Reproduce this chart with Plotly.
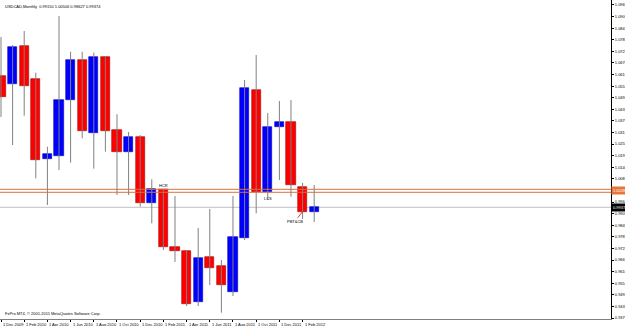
import plotly.graph_objects as go

months = ["Dec 2009", "Jan 2010", "Feb 2010", "Mar 2010", "Apr 2010", "May 2010", "Jun 2010",
          "Jul 2010", "Aug 2010", "Sep 2010", "Oct 2010", "Nov 2010", "Dec 2010", "Jan 2011",
          "Feb 2011", "Mar 2011", "Apr 2011", "May 2011", "Jun 2011", "Jul 2011", "Aug 2011",
          "Sep 2011", "Oct 2011", "Nov 2011", "Dec 2011", "Jan 2012", "Feb 2012", "Mar 2012"]
opens = [1.06044, 1.05622, 1.07568, 1.05876, 1.01812, 1.01995, 1.04809, 1.06856, 1.03163, 1.07009,
         1.03285, 1.02168, 1.02960, 0.99607, 1.00288, 0.97357, 0.97154, 0.94563, 0.96849, 0.96392,
         0.95071, 0.97814, 1.05332, 1.00166, 1.03453, 1.03707, 1.00420, 0.99150]
highs = [1.08025, 1.07618, 1.08330, 1.06211, 1.02452, 1.09092, 1.07278, 1.07278, 1.07227, 1.07060,
         1.04098, 1.03199, 1.03046, 1.00796, 1.00456, 0.99948, 0.97204, 0.98322, 0.99287, 0.96696,
         0.99948, 1.05840, 1.07110, 1.04164, 1.04774, 1.04824, 1.00608, 1.00506]
lows = [1.03961, 1.02538, 1.04027, 1.00847, 0.99490, 1.01268, 1.01639, 1.02879, 1.01334, 1.02198,
        0.99998, 0.99998, 0.99404, 0.98561, 0.97204, 0.96595, 0.94360, 0.94360, 0.95426, 0.94019,
        0.94868, 0.97712, 0.99069, 0.99744, 1.00760, 0.99912, 0.98779, 0.98627]
closes = [1.04977, 1.07532, 1.05551, 1.01776, 1.02081, 1.04824, 1.06856, 1.03250, 1.07009, 1.03250,
          1.02198, 1.02960, 0.99607, 1.00288, 0.97357, 0.97154, 0.94461, 0.96798, 0.96290, 0.95426,
          0.97865, 1.05434, 1.00166, 1.03453, 1.03707, 1.00506, 0.99150, 0.99374]

tick_months = ["1 Dec 2009", "1 Feb 2010", "1 Apr 2010", "1 Jun 2010", "1 Aug 2010", "1 Oct 2010",
               "1 Dec 2010", "1 Feb 2011", "1 Apr 2011", "1 Jun 2011", "1 Aug 2011", "1 Oct 2011",
               "1 Dec 2011", "1 Feb 2012"]
price_ticks = [round(0.93750 + k * 0.00589, 5) for k in range(28)]
levels = [1.00288, 1.00136]

header = "USDCAD,Monthly  0.99150 1.00506 0.98627 0.99374"
footer = "FxPro MT4, \u00a9 2001-2011 MetaQuotes Software Corp."

FONT = "Liberation Sans, Arial, sans-serif"
idx = list(range(len(months)))

wx, wy = [], []
for i, h, l in zip(idx, highs, lows):
    wx += [i, i, None]
    wy += [l, h, None]

bull = [c >= o for o, c in zip(opens, closes)]
fill = ["#0000FF" if b else "#FF0000" for b in bull]
edge = ["#0000C0" if b else "#A00000" for b in bull]

fig = go.Figure()
fig.add_trace(go.Scatter(x=wx, y=wy, mode="lines", line=dict(color="#808080", width=1),
                         hoverinfo="skip", showlegend=False))
fig.add_trace(go.Bar(x=idx, base=[min(o, c) for o, c in zip(opens, closes)],
                     y=[max(abs(c - o), 0.0004) for o, c in zip(opens, closes)],
                     width=0.78, marker=dict(color=fill, line=dict(color=edge, width=0.6)),
                     showlegend=False, hoverinfo="skip"))

# horizontal levels
for lv in levels:
    fig.add_shape(type="line", xref="paper", x0=0, x1=1, yref="y", y0=lv, y1=lv,
                  line=dict(color="#D9703A", width=1))
fig.add_shape(type="line", xref="paper", x0=0, x1=1, yref="y", y0=closes[-1], y1=closes[-1],
              line=dict(color="#C0C0C0", width=1), layer="below")

ann = []
for k, t in enumerate(tick_months):
    ann.append(dict(x=idx[2 * k], xref="x", y=0, yref="paper", yanchor="top", xanchor="left",
                    text=t, showarrow=False, xshift=0, yshift=-1,
                    font=dict(size=4, color="#000000", family=FONT)))
ann.append(dict(x=0, xref="paper", y=1, yref="paper", xanchor="left", yanchor="top", text=header,
                showarrow=False, xshift=3, yshift=-2, font=dict(size=4, color="#000000", family=FONT)))
ann.append(dict(x=0, xref="paper", y=0, yref="paper", xanchor="left", yanchor="bottom", text=footer,
                showarrow=False, xshift=3, yshift=1, font=dict(size=4, color="#000000", family=FONT)))
ann.append(dict(x=1, xref="paper", y=levels[0], yref="y", xanchor="left", yanchor="middle",
                text=f"{levels[0]:.5f}", showarrow=False, xshift=0, yshift=-1.5, bgcolor="#E8763A",
                borderpad=1, font=dict(size=4, color="#FFFFFF", family=FONT)))
ann.append(dict(x=1, xref="paper", y=closes[-1], yref="y", xanchor="left", yanchor="middle",
                text=f"{closes[-1]:.5f}", showarrow=False, xshift=0, bgcolor="#000000",
                borderpad=1, font=dict(size=4, color="#FFFFFF", family=FONT)))
ann.append(dict(x=idx[14], xref="x", y=opens[14], yref="y", yanchor="bottom", text="HCR",
                showarrow=False, yshift=0, bgcolor="#FFFFFF", borderpad=0,
                font=dict(size=4, color="#000000", family=FONT)))
ann.append(dict(x=idx[23], xref="x", y=opens[23], yref="y", yanchor="top", text="LCS",
                showarrow=False, yshift=-2, font=dict(size=4, color="#000000", family=FONT)))
ann.append(dict(x=idx[26], xref="x", y=closes[26], yref="y", text="PBT&CB", showarrow=True,
                arrowhead=0, arrowwidth=0.8, arrowcolor="#CC0000", ax=-8, ay=10, standoff=0,
                font=dict(size=4, color="#000000", family=FONT)))

fig.update_layout(
    width=625, height=326, margin=dict(l=0, r=14, t=0, b=7),
    paper_bgcolor="#FFFFFF", plot_bgcolor="#FFFFFF", bargap=0,
    annotations=ann,
    xaxis=dict(range=[-0.0862, 52.59], showgrid=False, zeroline=False, showticklabels=False,
               tickmode="array", tickvals=idx[::2], ticks="outside", ticklen=2, tickcolor="#000000",
               showline=True, linecolor="#808080", linewidth=1, mirror=True, automargin=False),
    yaxis=dict(range=[0.936992, 1.099044], side="right", showgrid=False, zeroline=False,
               tickmode="array", tickvals=price_ticks, ticktext=[f"{v:.5f}" for v in price_ticks],
               ticks="outside", ticklen=2, tickcolor="#000000",
               tickfont=dict(size=4, color="#000000", family=FONT),
               showline=True, linecolor="#000000", linewidth=1, automargin=False),
)

fig.write_html("out.html")
